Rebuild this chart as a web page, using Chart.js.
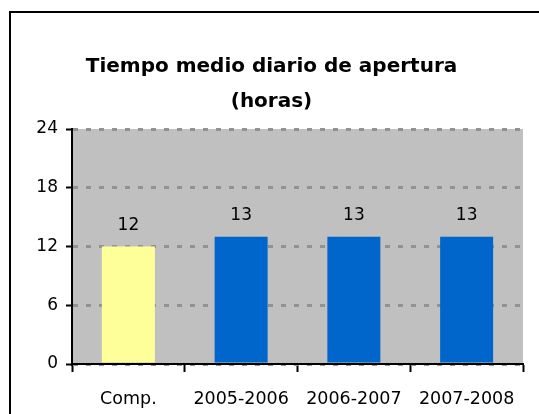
<!DOCTYPE html>
<html>
<head>
<meta charset="utf-8">
<script src="https://cdn.jsdelivr.net/npm/chart.js@4/dist/chart.umd.min.js"></script>
<style>
  html, body { margin: 0; padding: 0; background: #fff; overflow: hidden; }
  #wrap { position: relative; width: 539px; height: 414px; }
  #frame { position: absolute; left: 9px; top: 11px; width: 700px; height: 700px; border: 2px solid #000; box-sizing: border-box; }
  canvas { position: absolute; left: 0; top: 0; }
</style>
</head>
<body>
<div id="wrap">
  <div id="frame"></div>
  <canvas id="horas_bar_chart" width="539" height="414"></canvas>
</div>
<script>
const categories = ["Comp.", "2005-2006", "2006-2007", "2007-2008"];
const hours = [12, 13, 13, 13];
const bar_colors = ["#ffff99", "#0066cc", "#0066cc", "#0066cc"];
const y_ticks = [0, 6, 12, 18, 24];

const plot_background = {
  id: 'plot_background',
  beforeDraw(chart) {
    const {ctx, chartArea} = chart;
    ctx.save();
    ctx.fillStyle = "#c0c0c0";
    ctx.fillRect(chartArea.left, chartArea.top, chartArea.right - chartArea.left, chartArea.bottom - chartArea.top);
    ctx.restore();
  }
};

const value_labels = {
  id: 'value_labels',
  afterDatasetsDraw(chart) {
    const ctx = chart.ctx;
    const meta = chart.getDatasetMeta(0);
    ctx.save();
    ctx.font = "17px 'DejaVu Sans'";
    ctx.fillStyle = "#000";
    ctx.textAlign = "center";
    ctx.textBaseline = "middle";
    meta.data.forEach(function(bar, i) {
      ctx.fillText(hours[i], bar.x, bar.y - 21);
    });
    ctx.restore();
  }
};

function create_bar_chart(chart_id) {
  let chart = new Chart(document.getElementById(chart_id), {
    type: 'bar',
    data: {
      labels: categories,
      datasets: [{
        data: hours,
        backgroundColor: bar_colors,
        borderWidth: 0,
        categoryPercentage: 1,
        barPercentage: 0.47
      }]
    },
    options: {
      responsive: false,
      animation: false,
      layout: { padding: { left: 20, right: 16, top: 0, bottom: 0 } },
      plugins: {
        legend: { display: false },
        tooltip: { enabled: false },
        title: {
          display: true,
          text: ["Tiempo medio diario de apertura", "(horas)"],
          color: "#000",
          font: { family: "'DejaVu Sans'", size: 20, weight: 'bold', lineHeight: 1.75 },
          padding: { top: 49, bottom: 10 }
        }
      },
      scales: {
        x: {
          grid: {
            display: true, drawOnChartArea: false, drawTicks: true,
            tickLength: 8, tickColor: "#000", tickWidth: 2, offset: true
          },
          border: { display: true, color: "#000", width: 2 },
          ticks: { color: "#000", padding: 17, font: { family: "'DejaVu Sans'", size: 17.5 } },
          afterFit(scale) { scale.height = 50; }
        },
        y: {
          min: 0,
          max: 24,
          afterBuildTicks(scale) { scale.ticks = y_ticks.map(v => ({ value: v })); },
          grid: {
            color: "#929292", lineWidth: 3, drawTicks: true,
            tickLength: 6, tickColor: "#000", tickWidth: 2, tickBorderDash: []
          },
          border: { display: true, color: "#000", width: 2, dash: [5, 8] },
          ticks: { color: "#000", padding: 8, font: { family: "'DejaVu Sans'", size: 17 } },
          afterFit(scale) { scale.width = 52; }
        }
      }
    },
    plugins: [plot_background, value_labels]
  });
  return chart;
}

create_bar_chart('horas_bar_chart');
</script>
</body>
</html>
